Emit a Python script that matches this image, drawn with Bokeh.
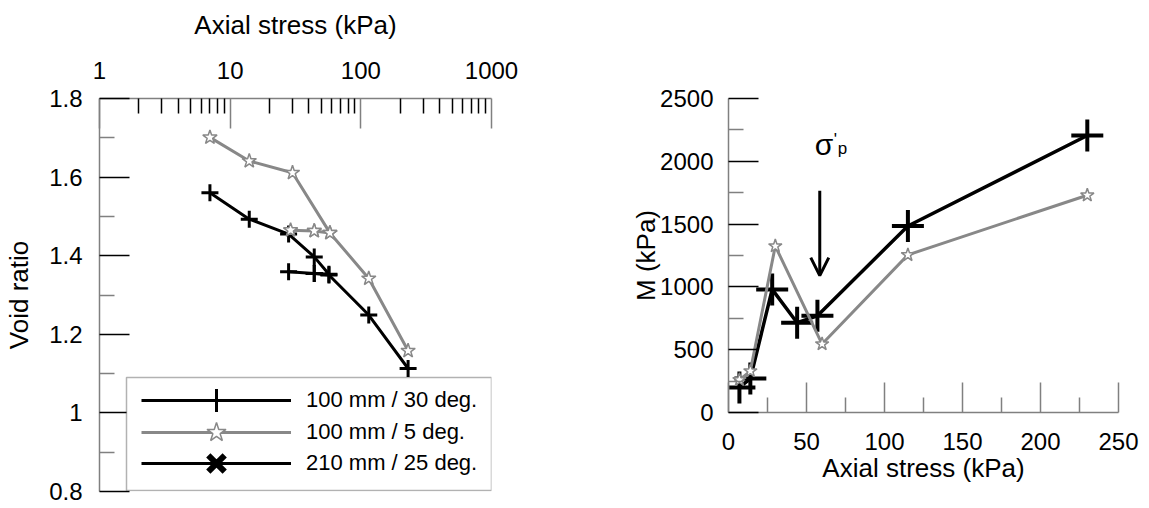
from bokeh.plotting import figure
from bokeh.layouts import row
from bokeh.models import (Range1d, FixedTicker, CustomJSTickFormatter, Legend, LegendItem,
                          Arrow, OpenHead, BoxAnnotation)
from bokeh.embed import file_html
from bokeh.resources import INLINE
from bokeh.core.properties import value

# ---------------- data ----------------
# Left panel: void ratio vs axial stress (log scale)
stress_30 = [7, 14, 28, 44, 57, 44, 28, 44, 57, 115, 230]
void_30 = [1.560, 1.493, 1.455, 1.397, 1.353, 1.355, 1.359, 1.355, 1.351, 1.249, 1.113]
stress_5 = [7, 14, 30, 58, 44, 29, 44, 58, 115, 230]
void_5 = [1.701, 1.641, 1.611, 1.458, 1.463, 1.465, 1.463, 1.458, 1.342, 1.158]
# 210 mm / 25 deg. series has no points in this panel (legend entry only)
stress_210 = [float("nan")]
void_210 = [float("nan")]

# Right panel: constrained modulus M vs axial stress
m_stress_30 = [7, 14, 28, 44, 57, 115, 230]
m_30 = [200, 270, 980, 715, 770, 1485, 2205]
m_stress_5 = [7, 14, 30, 60, 115, 230]
m_5 = [260, 330, 1325, 545, 1255, 1730]

legend_labels = ["100 mm / 30 deg.", "100 mm / 5 deg.", "210 mm / 25 deg."]
log_ticks = [1, 10, 100, 1000]
log_minor = [2, 3, 4, 5, 6, 7, 8, 9, 20, 30, 40, 50, 60, 70, 80, 90,
             200, 300, 400, 500, 600, 700, 800, 900]
void_ticks = [0.8, 1.0, 1.2, 1.4, 1.6, 1.8]
void_minor = [0.9, 1.1, 1.3, 1.5, 1.7]
m_x_ticks = [0, 50, 100, 150, 200, 250]
m_x_minor = [25, 75, 125, 175, 225]
m_y_ticks = [0, 500, 1000, 1500, 2000, 2500]
m_y_minor = [250, 750, 1250, 1750, 2250]

# preconsolidation annotation
sigma_p_stress = 58.5
arrow_top, arrow_tip = 1765, 1090

FONT = "Liberation Sans"
GRAY = "#888888"
AXC = "#808080"


def style_axis(ax, tick_size="24px", label_size="26px"):
    ax.major_tick_in = 30
    ax.major_tick_out = 0
    ax.minor_tick_in = 15
    ax.minor_tick_out = 0
    ax.axis_line_color = AXC
    ax.axis_line_width = 1.5
    ax.major_tick_line_width = 1.5
    ax.minor_tick_line_width = 1.5
    ax.major_label_text_font = FONT
    ax.major_label_text_font_size = tick_size
    ax.major_label_text_color = "black"
    ax.axis_label_text_font = FONT
    ax.axis_label_text_font_size = label_size
    ax.axis_label_text_font_style = "normal"
    ax.axis_label_text_color = "black"


# ---------------- left panel ----------------
p1 = figure(x_axis_type="log", x_axis_location="above",
            x_range=Range1d(1, 1000), y_range=Range1d(0.8, 1.8),
            frame_width=392, frame_height=393,
            min_border_left=99, min_border_top=98, min_border_right=69, min_border_bottom=15,
            output_backend="svg", toolbar_location=None)
p1.outline_line_color = None
p1.grid.visible = False

xa = p1.xaxis[0]
style_axis(xa)
xa.ticker = FixedTicker(ticks=log_ticks, minor_ticks=log_minor)
xa.formatter = CustomJSTickFormatter(code="return String(Math.round(tick));")
xa.axis_label = "Axial stress (kPa)"
xa.major_label_standoff = 20
xa.axis_label_standoff = 19
xa.major_tick_line_color = AXC
xa.minor_tick_line_color = "black"

ya = p1.yaxis[0]
style_axis(ya)
ya.ticker = FixedTicker(ticks=void_ticks, minor_ticks=void_minor)
ya.formatter = CustomJSTickFormatter(code="return String(Math.round(tick*10)/10);")
ya.axis_label = "Void ratio"
ya.major_label_standoff = 17
ya.axis_label_standoff = 12
ya.major_tick_line_color = "black"
ya.minor_tick_line_color = AXC

l30 = p1.line(stress_30, void_30, line_color="black", line_width=3)
s30 = p1.scatter(stress_30, void_30, marker="cross", size=17, line_color="black", line_width=3)
l5 = p1.line(stress_5, void_5, line_color=GRAY, line_width=3)
s5 = p1.scatter(stress_5, void_5, marker="star", size=15, line_color=GRAY,
                fill_color="white", line_width=1.5)
l210 = p1.line(stress_210, void_210, line_color="black", line_width=3)
s210 = p1.scatter(stress_210, void_210, marker="x", size=20, line_color="black", line_width=6)

# legend frame
box = BoxAnnotation(left=126, right=491, top=377, bottom=490,
                    left_units="canvas", right_units="canvas",
                    top_units="canvas", bottom_units="canvas",
                    fill_color="white", fill_alpha=1.0, line_color="black", line_width=1.5)
p1.add_layout(box)


def legend_row(label, renderers, y, gh):
    return Legend(items=[LegendItem(label=label, renderers=renderers)],
                  location=(42, y), glyph_width=150, glyph_height=gh, spacing=0,
                  padding=0, margin=0, label_standoff=15,
                  label_text_font=FONT, label_text_font_size="22px", label_text_color="black",
                  border_line_color=None, background_fill_alpha=0)


p1.add_layout(legend_row(legend_labels[0], [l30, s30], 62, 58))
p1.add_layout(legend_row(legend_labels[1], [l5, s5], 34, 50))
p1.add_layout(legend_row(legend_labels[2], [l210, s210], -1, 58))

# ---------------- right panel ----------------
p2 = figure(x_range=Range1d(0, 250), y_range=Range1d(0, 2500),
            frame_width=390, frame_height=314,
            min_border_left=168, min_border_right=25, min_border_top=98, min_border_bottom=94,
            output_backend="svg", toolbar_location=None)
p2.outline_line_color = None
p2.grid.visible = False

xb = p2.xaxis[0]
style_axis(xb)
xb.ticker = FixedTicker(ticks=m_x_ticks, minor_ticks=m_x_minor)
xb.axis_label = "Axial stress (kPa)"
xb.major_label_standoff = 20
xb.axis_label_standoff = 0
xb.major_tick_line_color = AXC
xb.minor_tick_line_color = AXC

yb = p2.yaxis[0]
style_axis(yb)
yb.ticker = FixedTicker(ticks=m_y_ticks, minor_ticks=m_y_minor)
yb.axis_label = "M (kPa)"
yb.major_label_standoff = 15
yb.axis_label_standoff = -4
yb.major_tick_line_color = "black"
yb.minor_tick_line_color = AXC

p2.line(m_stress_30, m_30, line_color="black", line_width=3.5)
p2.scatter(m_stress_30, m_30, marker="cross", size=32, line_color="black", line_width=4)
p2.line(m_stress_5, m_5, line_color=GRAY, line_width=3)
p2.scatter(m_stress_5, m_5, marker="star", size=14, line_color=GRAY,
           fill_color="white", line_width=1.5)

p2.add_layout(Arrow(end=OpenHead(size=18, line_width=3, line_color="black"),
                    x_start=sigma_p_stress, y_start=arrow_top,
                    x_end=sigma_p_stress, y_end=arrow_tip,
                    line_width=3, line_color="black"))

p2.text(x=[61.3], y=[2135], text=["σ"], text_font=value(FONT), text_font_size="30px",
        text_align="center", text_baseline="alphabetic", text_color="black")
p2.text(x=[67.5], y=[2250], text=["'"], text_font=value(FONT), text_font_size="17px",
        text_align="left", text_baseline="top", text_color="black")
p2.text(x=[70.0], y=[2100], text=["p"], text_font=value(FONT), text_font_size="17px",
        text_align="left", text_baseline="alphabetic", text_color="black")

layout = row(p1, p2)
open("out.html", "w").write(file_html(layout, INLINE))
